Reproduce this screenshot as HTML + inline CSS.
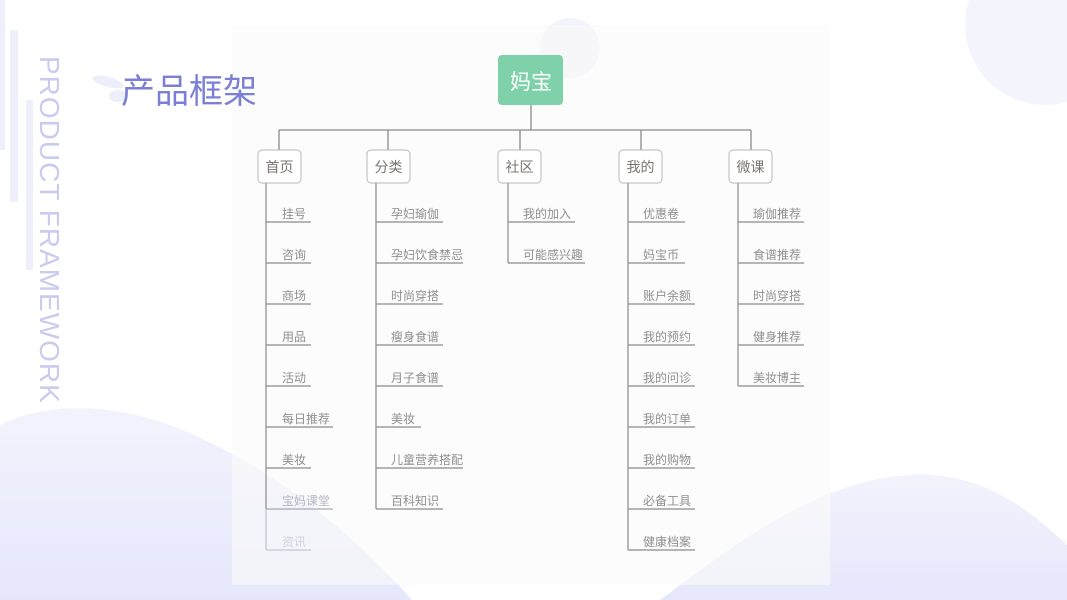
<!DOCTYPE html>
<html><head><meta charset="utf-8"><style>
html,body{margin:0;padding:0;background:#fff;}
svg{display:block;font-family:"Liberation Sans","Noto Sans CJK SC",sans-serif;}
</style></head><body>
<svg width="1067" height="600" viewBox="0 0 1067 600" xmlns="http://www.w3.org/2000/svg">
<defs>
<linearGradient id="w" x1="0" y1="0" x2="0" y2="1"><stop offset="0" stop-color="#f3f3fd"/><stop offset="1" stop-color="#e6e7fb"/></linearGradient>
</defs>
<rect width="1067" height="600" fill="#fff"/>
<circle cx="1045" cy="25" r="80" fill="#f4f4fd"/>
<circle cx="570" cy="48" r="30" fill="#f3f3fb"/>
<path d="M0 425 C40 405 100 400 170 425 C260 460 340 520 412 600 L0 600 Z" fill="url(#w)"/>
<path d="M660 600 C740 540 820 480 910 475 C980 470 1030 510 1067 545 L1067 600 Z" fill="url(#w)"/>
<rect x="232" y="25" width="598" height="560" fill="#fafafa" opacity="0.6"/>
<rect x="0" y="0" width="5" height="150" fill="#eeeffb"/>
<rect x="10" y="30" width="8" height="172" fill="#eeeffb"/>
<rect x="26" y="100" width="7" height="170" fill="#eeeffb"/>
<text transform="translate(40,56) rotate(90)" font-size="28" fill="#c9cbef" letter-spacing="1">PRODUCT FRAMEWORK</text>
<ellipse cx="108" cy="82" rx="16" ry="5" fill="#eceefa" transform="rotate(15 108 82)"/>
<ellipse cx="118" cy="96" rx="9" ry="6" fill="#eceefa"/>
<text x="121" y="103" font-size="34" fill="#7b7fd6">产品框架</text>
<g stroke="#8a8a8a" stroke-width="1.3" fill="none">
<line x1="531" y1="105" x2="531" y2="130"/>
<line x1="279" y1="130" x2="751" y2="130"/>
<line x1="279" y1="130" x2="279" y2="150"/>
<line x1="388" y1="130" x2="388" y2="150"/>
<line x1="520" y1="130" x2="520" y2="150"/>
<line x1="641" y1="130" x2="641" y2="150"/>
<line x1="751" y1="130" x2="751" y2="150"/>
</g>
<rect x="498" y="55" width="65" height="50" rx="4" fill="#7fd1a9"/>
<text x="531" y="89" font-size="21" fill="#fff" text-anchor="middle">妈宝</text>
<g fill="#fff" stroke="#b8b8b8" stroke-width="1">
<rect x="258" y="150" width="43" height="33" rx="4"/>
<rect x="367" y="150" width="43" height="33" rx="4"/>
<rect x="498" y="150" width="43" height="33" rx="4"/>
<rect x="619" y="150" width="43" height="33" rx="4"/>
<rect x="729" y="150" width="43" height="33" rx="4"/>
</g>
<g font-size="14" fill="#7a7470" text-anchor="middle">
<text x="279.5" y="172">首页</text><text x="388.5" y="172">分类</text><text x="519.5" y="172">社区</text><text x="640.5" y="172">我的</text><text x="750.5" y="172">微课</text>
</g>
<g stroke="#8a8a8a" stroke-width="1.2">
<line x1="266" y1="183" x2="266" y2="509"/>
<line x1="266" y1="509" x2="266" y2="550" stroke="#c0c0d0"/>
<line x1="376" y1="183" x2="376" y2="509"/>
<line x1="508" y1="183" x2="508" y2="263"/>
<line x1="628" y1="183" x2="628" y2="550"/>
<line x1="738" y1="183" x2="738" y2="386"/>
<line x1="266" y1="222" x2="311" y2="222"/><line x1="266" y1="263" x2="311" y2="263"/><line x1="266" y1="304" x2="311" y2="304"/><line x1="266" y1="345" x2="311" y2="345"/><line x1="266" y1="386" x2="311" y2="386"/><line x1="266" y1="427" x2="333" y2="427"/><line x1="266" y1="468" x2="311" y2="468"/><line x1="266" y1="509" x2="333" y2="509" stroke="#a8a8b8"/><line x1="266" y1="550" x2="311" y2="550" stroke="#c8c8d8"/>
<line x1="376" y1="222" x2="443" y2="222"/><line x1="376" y1="263" x2="463" y2="263"/><line x1="376" y1="304" x2="443" y2="304"/><line x1="376" y1="345" x2="443" y2="345"/><line x1="376" y1="386" x2="443" y2="386"/><line x1="376" y1="427" x2="421" y2="427"/><line x1="376" y1="468" x2="463" y2="468"/><line x1="376" y1="509" x2="443" y2="509"/>
<line x1="508" y1="222" x2="575" y2="222"/><line x1="508" y1="263" x2="585" y2="263"/>
<line x1="628" y1="222" x2="685" y2="222"/><line x1="628" y1="263" x2="685" y2="263"/><line x1="628" y1="304" x2="695" y2="304"/><line x1="628" y1="345" x2="695" y2="345"/><line x1="628" y1="386" x2="695" y2="386"/><line x1="628" y1="427" x2="695" y2="427"/><line x1="628" y1="468" x2="695" y2="468"/><line x1="628" y1="509" x2="695" y2="509"/><line x1="628" y1="550" x2="695" y2="550"/>
<line x1="738" y1="222" x2="804" y2="222"/><line x1="738" y1="263" x2="804" y2="263"/><line x1="738" y1="304" x2="804" y2="304"/><line x1="738" y1="345" x2="804" y2="345"/><line x1="738" y1="386" x2="804" y2="386"/>
</g>
<g font-size="12" fill="#8f8f8f">
<text x="282" y="218">挂号</text><text x="282" y="259">咨询</text><text x="282" y="300">商场</text><text x="282" y="341">用品</text><text x="282" y="382">活动</text><text x="282" y="423">每日推荐</text><text x="282" y="464">美妆</text><text x="282" y="505" fill="#b4b4c4">宝妈课堂</text><text x="282" y="546" fill="#d2d2e2">资讯</text>
<text x="391" y="218">孕妇瑜伽</text><text x="391" y="259">孕妇饮食禁忌</text><text x="391" y="300">时尚穿搭</text><text x="391" y="341">瘦身食谱</text><text x="391" y="382">月子食谱</text><text x="391" y="423">美妆</text><text x="391" y="464">儿童营养搭配</text><text x="391" y="505">百科知识</text>
<text x="523" y="218">我的加入</text><text x="523" y="259">可能感兴趣</text>
<text x="643" y="218">优惠卷</text><text x="643" y="259">妈宝币</text><text x="643" y="300">账户余额</text><text x="643" y="341">我的预约</text><text x="643" y="382">我的问诊</text><text x="643" y="423">我的订单</text><text x="643" y="464">我的购物</text><text x="643" y="505">必备工具</text><text x="643" y="546">健康档案</text>
<text x="753" y="218">瑜伽推荐</text><text x="753" y="259">食谱推荐</text><text x="753" y="300">时尚穿搭</text><text x="753" y="341">健身推荐</text><text x="753" y="382">美妆博主</text>
</g>
</svg>
</body></html>
